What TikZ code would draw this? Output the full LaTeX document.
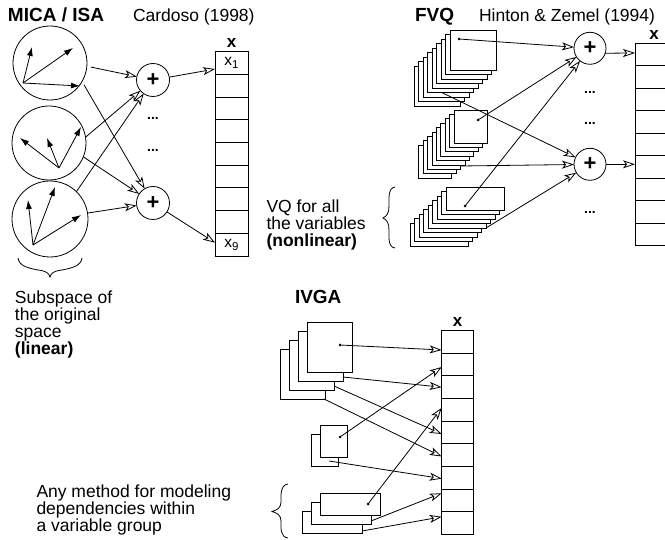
\documentclass[tikz,border=0pt]{standalone}
\usepackage{fontspec}
\setmainfont{Liberation Sans}
\usetikzlibrary{arrows.meta,calc}
\tikzset{
  openhead/.tip={Stealth[open,length=12pt,width=8pt,inset=3pt,line width=0.8pt]},
  vechead/.tip={Latex[length=9pt,width=6pt]}
}
\begin{document}
\begin{tikzpicture}[x=1pt,y=-1pt,
  every node/.style={inner sep=0pt,outer sep=0pt},
  conn/.style={line width=0.8pt,-openhead},
  vec/.style={line width=0.8pt,-vechead},
  ring/.style={circle,draw,line width=0.8pt,minimum size=74pt},
  sumnode/.style={circle,draw,line width=0.8pt,minimum size=33pt,font=\fontsize{22}{22}\selectfont\bfseries},
  cellL/.style={draw,line width=0.8pt,minimum width=33pt,minimum height=22.7pt},
  cellR/.style={draw,line width=0.8pt,minimum width=33pt,minimum height=22.5pt},
  cellV/.style={draw,line width=0.8pt,minimum width=31.6pt,minimum height=22.6pt},
  layer/.style={draw,fill=white,line width=0.8pt},
  dotmark/.style={circle,fill,minimum size=3pt},
  title/.style={font=\fontsize{19}{19}\selectfont\bfseries,anchor=base west},
  txt/.style={font=\fontsize{17.5}{17}\selectfont,anchor=base west},
  note/.style={font=\fontsize{17.5}{17}\selectfont,align=left,anchor=north west},
  xlabel/.style={font=\fontsize{17}{17}\selectfont\bfseries,anchor=base},
  celltxt/.style={font=\fontsize{15.5}{15.5}\selectfont},
  ellip/.style={font=\fontsize{14}{14}\selectfont\bfseries,anchor=base},
  bracepath/.style={line width=0.8pt}
]
\useasboundingbox (0,0) rectangle (665,540);
\fill[white] (0,0) rectangle (665,540);

% ================= MICA / ISA =================
\node[title] (tMica) at (8,22) {MICA / ISA};
\node[txt] (tCard) at (133,22) {Cardoso (1998)};

\node[ring] (c1) at (50,63) {};
\node[ring] (c2) at (49,143) {};
\node[ring,minimum size=76pt] (c3) at (50,219) {};

% basis vectors inside the subspace circles
\draw[vec] ($(c1)+(-27,20)$) -- ($(c1)+(-18,-16)$);
\draw[vec] ($(c1)+(-27,20)$) -- ($(c1)+(23,-15)$);
\draw[vec] ($(c1)+(-27,20)$) -- ($(c1)+(30,23)$);
\draw[vec] ($(c2)+(10,25)$) -- ($(c2)+(-29,-5)$);
\draw[vec] ($(c2)+(10,25)$) -- ($(c2)+(-2,-5)$);
\draw[vec] ($(c2)+(10,25)$) -- ($(c2)+(32,-16)$);
\draw[vec] ($(c3)+(-17,26)$) -- ($(c3)+(-22,-19)$);
\draw[vec] ($(c3)+(-17,26)$) -- ($(c3)+(5,-32)$);
\draw[vec] ($(c3)+(-17,26)$) -- ($(c3)+(31,-4)$);

\node[sumnode] (p1) at (153,80) {+};
\node[sumnode] (p2) at (153,203) {+};
\node[ellip] (e1) at (153,120) {...};
\node[ellip] (e2) at (153,151.5) {...};

\foreach \i in {1,...,9}
  \node[cellL] (L\i) at (231.5,{51.7+22.7*(\i-0.5)}) {};
\node[xlabel] (xL) at (231.5,48) {x};
\node[celltxt] (xL1) at (L1) {x\raisebox{-3pt}{\fontsize{11.5}{11.5}\selectfont 1}};
\node[celltxt] (xL9) at (L9) {x\raisebox{-3pt}{\fontsize{11.5}{11.5}\selectfont 9}};

\draw[conn,shorten <=4pt] (c1.-5) -- (p1);
\draw[conn,shorten <=4pt] (c1.-30) -- (p2);
\draw[conn] (c2.9) -- (p1);
\draw[conn] (c2.-22) -- (p2);
\draw[conn] (c3.46) -- (p1);
\draw[conn] (c3.9) -- (p2);
\draw[conn] (p1) -- ($(L1.west)+(0,6)$);
\draw[conn] (p2) -- ($(L9.west)+(0,-2)$);

% brace under the circles
\draw[bracepath] (18,258) .. controls (19,266) and (28,268) .. (38,270)
  .. controls (46,271) and (49,273) .. (50,277)
  .. controls (51,273) and (54,271) .. (62,270)
  .. controls (72,268) and (81,266) .. (82,258);
\node[note] (nSub) at (15,290.5) {Subspace of\\the original\\space\\\textbf{(linear)}};

% ================= FVQ =================
\node[title] (tFvq) at (415,22) {FVQ};
\node[txt] (tHin) at (479,22) {Hinton \& Zemel (1994)};

\foreach \k in {8,7,...,0}
  \node[layer,minimum width=46pt,minimum height=40pt] (sa\k) at ({473-4.5*\k},{50+4.5*\k}) {};
\foreach \k in {8,7,...,0}
  \node[layer,minimum width=33pt,minimum height=33pt] (sb\k) at ({470.5-4.4*\k},{126.5+4.4*\k}) {};
\foreach \k in {8,7,...,0}
  \node[layer,minimum width=58pt,minimum height=23pt] (sc\k) at ({475-4.5*\k},{198.5+4.5*\k}) {};

\node[dotmark] (d1) at (459,39) {};
\node[dotmark] (d2) at (478,120) {};
\node[dotmark] (d3) at (465,206) {};

\node[sumnode,minimum size=32pt] (p3) at (590,48.3) {+};
\node[sumnode,minimum size=32pt] (p4) at (590,164.3) {+};
\node[ellip] (e3) at (590,93.5) {...};
\node[ellip] (e4) at (590,124.5) {...};
\node[ellip] (e5) at (590,214) {...};

\begin{scope}
  \clip (0,0) rectangle (665,540);
  \foreach \i in {1,...,9}
    \node[cellR] (R\i) at (651.5,{43.3+22.5*(\i-0.5)}) {};
\end{scope}
\node[xlabel] (xR) at (654,39.5) {x};

\coordinate (sa5b) at ($(sa5.south)+(-8.8,0)$);
\coordinate (sb6b) at ($(sb6.south east)+(0,-3.4)$);
\draw[conn] (d1) -- (p3);
\draw[conn] (d2) -- (p3);
\draw[conn] (d3) -- (p3);
\draw[conn] (sa5b) -- (p4);
\draw[conn] (sb6b) -- (p4);
\draw[conn] (sc4.south east) -- (p4);
\draw[conn] (p3.-18) -- ($(R1.west)+(0,-1.6)$);
\draw[conn] (p4.east) -- (p4.east -| R6.west);

% brace left of the third stack
\draw[bracepath] (395,187) .. controls (388,188) and (389,198) .. (389,206)
  .. controls (389,213) and (387,216) .. (383,218)
  .. controls (387,220) and (389,223) .. (389,230)
  .. controls (389,238) and (388,247) .. (395,248);
\node[note] (nVq) at (266.5,200.2) {VQ for all\\the variables\\\textbf{(nonlinear)}};

% ================= IVGA =================
\node[title] (tIvga) at (295,304) {IVGA};

\foreach \k in {3,2,1,0}
  \node[layer,minimum width=45pt,minimum height=50pt] (sA\k) at ({329.5-9*\k},{347+9*\k}) {};
\foreach \k in {1,0}
  \node[layer,minimum width=27pt,minimum height=32pt] (sB\k) at ({333.5-9*\k},{441+9*\k}) {};
\foreach \k in {2,1,0}
  \node[layer,minimum width=60pt,minimum height=22pt] (sC\k) at ({350-9*\k},{504+9*\k}) {};

\node[dotmark] (dA) at (340,345) {};
\node[dotmark] (dB) at (340,437) {};
\node[dotmark] (dC) at (368,504) {};

\foreach \i in {1,...,9}
  \node[cellV] (V\i) at (457.5,{330.7+22.6*(\i-0.5)}) {};
\node[xlabel] (xV) at (457.5,326.7) {x};

\draw[conn] (dA) -- ($(V1.west)+(0,8)$);
\draw[conn] ($(sA1.south east)+(0,-4)$) -- (V3.west);
\draw[conn] ($(sA2.south east)+(0,-4)$) -- ($(V5.west)+(0,1.6)$);
\draw[conn] ($(sA3.south east)+(-1,0)$) -- ($(V6.west)+(0,1.5)$);
\draw[conn] (dB) -- ($(V2.west)+(0,2.4)$);
\draw[conn] ($(sB1.south east)+(-9,-5)$) -- ($(V7.west)+(0,1)$);
\draw[conn] (dC) -- ($(V4.west)+(0,-1.8)$);
\draw[conn] ($(sC1.south east)+(0,-3)$) -- ($(V8.west)+(0,-7)$);
\draw[conn] ($(sC2.south east)+(0,-2)$) -- ($(V9.west)+(0,-6)$);

% brace left of the last group
\draw[bracepath] (288,484) .. controls (280,485) and (281,496) .. (281,502)
  .. controls (281,508) and (277,510) .. (272,511.5)
  .. controls (277,513) and (281,515) .. (281,521)
  .. controls (281,528) and (280,537) .. (288,538);
\node[note] (nAny) at (36.5,485.2) {Any method for modeling\\dependencies within\\a variable group};
\end{tikzpicture}
\end{document}
